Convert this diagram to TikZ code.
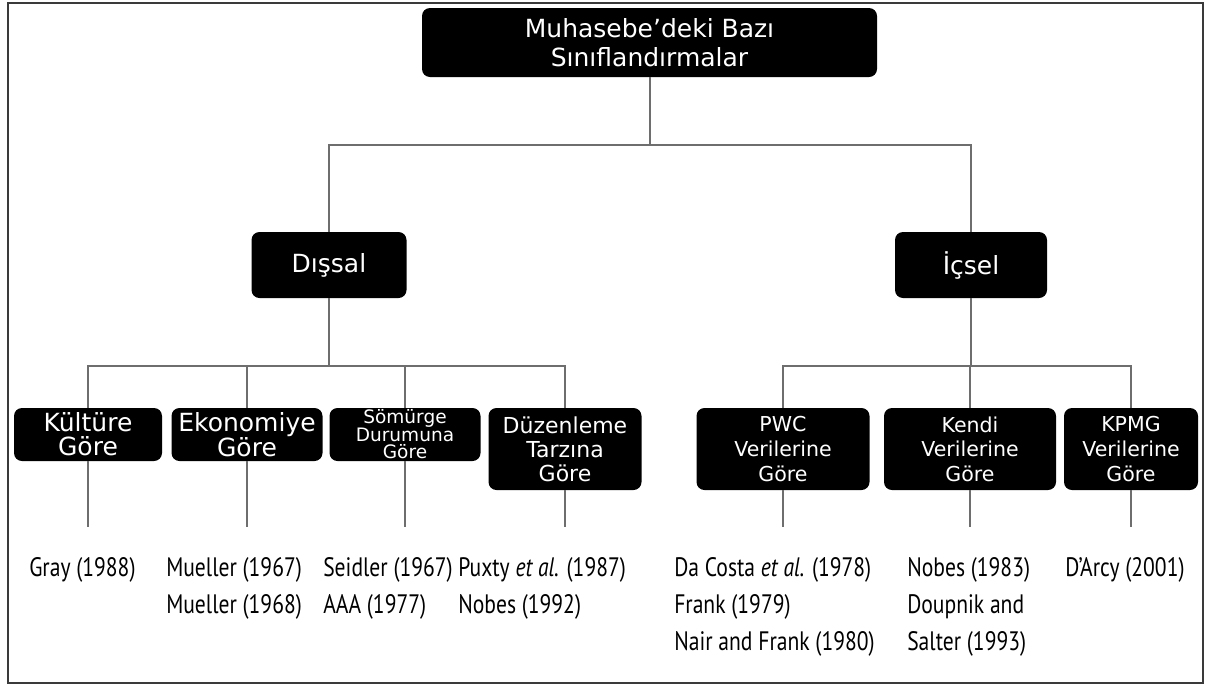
\documentclass[tikz,border=0pt]{standalone}
\usepackage{fontspec}
\newfontfamily\boxfont{DejaVu Sans}
\newfontfamily\reffont[FakeStretch=0.81]{PT Sans}
\usetikzlibrary{positioning}
\definecolor{linegray}{HTML}{6E6E6E}
\definecolor{framegray}{HTML}{3A3A3A}

\begin{document}
\begin{tikzpicture}[x=0.75pt,y=-0.75pt,
    box/.style={fill=black,text=white,rounded corners=6pt,align=center,inner sep=0pt},
    big/.style={box,font=\boxfont\fontsize{18.75}{21.75}\selectfont,minimum height=49.5pt},
    small/.style={box,font=\boxfont\fontsize{18.75}{18}\selectfont,minimum height=39.75pt},
    tall/.style={box,font=\boxfont\fontsize{15.4}{18.4}\selectfont,minimum height=61.5pt},
    conn/.style={draw=linegray,line width=1.5pt},
    ref/.style={anchor=north west,inner sep=0pt,align=left,font=\reffont\fontsize{20}{27.75}\selectfont}]
  \useasboundingbox (0,0) rectangle (1211,686);
  \draw[framegray,line width=1.5pt] (8,3) rectangle (1203,683);

  \coordinate (bus1) at (0,145);
  \coordinate (bus2) at (0,366);
  \coordinate (foot) at (0,527);

  \node[big,minimum width=341.25pt,minimum height=51.75pt] (root) at (649.5,42.5) {Muhasebe’deki Bazı\\Sınıflandırmalar};
  \node[big,minimum width=116.25pt] (dis) at (329,265) {Dışsal};
  \node[big,minimum width=114pt] (ic) at (971,265) {İçsel};

  \node[small,minimum width=111pt] (kul) at (88,434.5) {Kültüre\\Göre};
  \node[small,minimum width=113.25pt] (eko) at (247,434.5) {Ekonomiye\\Göre};
  \node[small,minimum width=113.25pt,font=\boxfont\fontsize{13.9}{13.1}\selectfont] (som) at (405,434.5) {Sömürge\\Durumuna\\Göre};
  \node[tall,minimum width=114.75pt,font=\boxfont\fontsize{16.5}{18}\selectfont] (duz) at (565,449) {Düzenleme\\Tarzına\\Göre};
  \node[tall,minimum width=129.75pt] (pwc) at (783,449) {PWC\\Verilerine\\Göre};
  \node[tall,minimum width=129pt] (ken) at (970,449) {Kendi\\Verilerine\\Göre};
  \node[tall,minimum width=100.5pt] (kpm) at (1131,449) {KPMG\\Verilerine\\Göre};

  \draw[conn] (root.south) |- (dis.north |- bus1) -- (dis.north);
  \draw[conn] (root.south) |- (ic.north |- bus1) -- (ic.north);
  \foreach \c in {kul,eko,som,duz}
    \draw[conn] (dis.south) |- (\c.north |- bus2) -- (\c.north);
  \foreach \c in {pwc,ken,kpm}
    \draw[conn] (ic.south) |- (\c.north |- bus2) -- (\c.north);
  \foreach \c in {kul,eko,som,duz,pwc,ken,kpm}
    \draw[conn] (\c.south) -- (\c.south |- foot);

  \node[ref] (gray) at (29,557) {Gray (1988)};
  \node[ref] (mue) at (166,557) {Mueller (1967)\\Mueller (1968)};
  \node[ref] (sei) at (323,557) {Seidler (1967)\\AAA (1977)};
  \node[ref] (pux) at (458,557) {Puxty \textit{et al.} (1987)\\Nobes (1992)};
  \node[ref] (dac) at (674,557) {Da Costa \textit{et al.} (1978)\\Frank (1979)\\Nair and Frank (1980)};
  \node[ref] (nob) at (907,557) {Nobes (1983)\\Doupnik and\\Salter (1993)};
  \node[ref] (dar) at (1065,557) {D’Arcy (2001)};
\end{tikzpicture}
\end{document}
